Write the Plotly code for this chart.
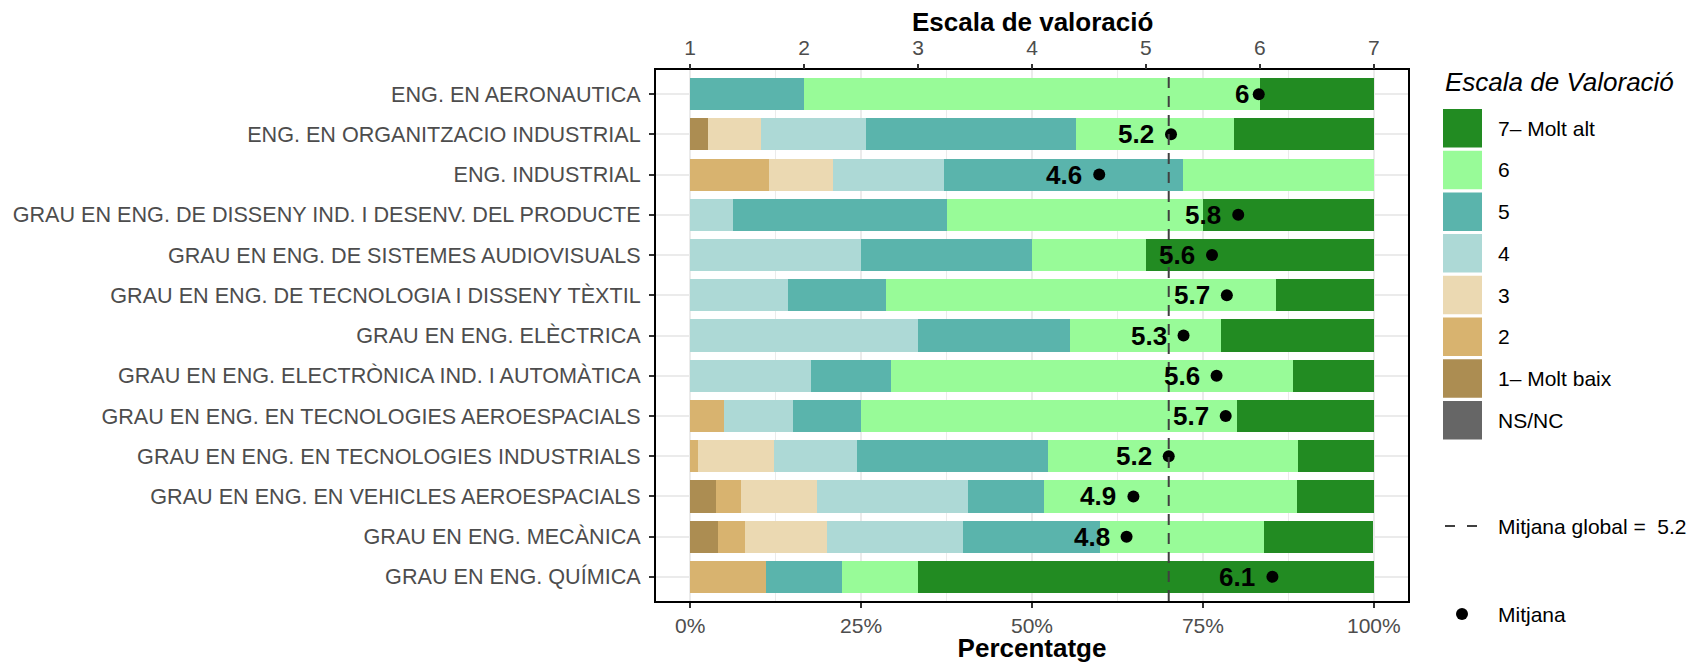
import plotly.graph_objects as go

# ---------------- data ----------------
categories = [
    "ENG. EN AERONAUTICA",
    "ENG. EN ORGANITZACIO INDUSTRIAL",
    "ENG. INDUSTRIAL",
    "GRAU EN ENG. DE DISSENY IND. I DESENV. DEL PRODUCTE",
    "GRAU EN ENG. DE SISTEMES AUDIOVISUALS",
    "GRAU EN ENG. DE TECNOLOGIA I DISSENY TÈXTIL",
    "GRAU EN ENG. ELÈCTRICA",
    "GRAU EN ENG. ELECTRÒNICA IND. I AUTOMÀTICA",
    "GRAU EN ENG. EN TECNOLOGIES AEROESPACIALS",
    "GRAU EN ENG. EN TECNOLOGIES INDUSTRIALS",
    "GRAU EN ENG. EN VEHICLES AEROESPACIALS",
    "GRAU EN ENG. MECÀNICA",
    "GRAU EN ENG. QUÍMICA",
]

level_names = ["1\u2013 Molt baix", "2", "3", "4", "5", "6", "7\u2013 Molt alt"]

pct_1 = [0, 2.6, 0, 0, 0, 0, 0, 0, 0, 0, 3.8, 4.1, 0]
pct_2 = [0, 0, 11.6, 0, 0, 0, 0, 0, 5.0, 1.2, 3.6, 3.9, 11.1]
pct_3 = [0, 7.7, 9.3, 0, 0, 0, 0, 0, 0, 11.0, 11.1, 12.0, 0]
pct_4 = [0, 15.4, 16.3, 6.25, 25.0, 14.3, 33.3, 17.6, 10.0, 12.2, 22.1, 19.9, 0]
pct_5 = [16.7, 30.8, 34.9, 31.25, 25.0, 14.3, 22.2, 11.8, 10.0, 28.0, 11.2, 20.1, 11.1]
pct_6 = [66.6, 23.0, 27.9, 37.5, 16.7, 57.1, 22.2, 58.8, 55.0, 36.5, 37.0, 23.9, 11.1]
pct_7 = [16.7, 20.5, 0, 25.0, 33.3, 14.3, 22.3, 11.8, 20.0, 11.1, 11.2, 16.0, 66.7]

means = [5.99, 5.22, 4.59, 5.81, 5.58, 5.71, 5.33, 5.62, 5.70, 5.20, 4.89, 4.83, 6.11]
global_mean = 5.2

scale_ticks = [1, 2, 3, 4, 5, 6, 7]
pct_ticks = [0, 25, 50, 75, 100]
pct_ticklabels = ["0%", "25%", "50%", "75%", "100%"]

colors = ["#AC8D52", "#D8B36F", "#EBD9B2", "#ADD9D6", "#5AB4AC", "#98FB98", "#228B22"]
ns_color = "#666666"

# ---------------- layout geometry ----------------
W, H = 1692, 663
ML, MR, MT, MB = 656, 284, 70, 62
PW, PH = W - ML - MR, H - MT - MB
FONT = "Liberation Sans, Arial, Helvetica, sans-serif"


def fx(px):
    return (px - ML) / PW


def fy(py):
    return 1 - (py - MT) / PH


fig = go.Figure()

series = [pct_1, pct_2, pct_3, pct_4, pct_5, pct_6, pct_7]
for name, vals, col in zip(level_names, series, colors):
    fig.add_trace(go.Bar(
        y=categories, x=vals, orientation="h", name=name,
        marker=dict(color=col, line=dict(width=0)), width=0.8,
        showlegend=False, xaxis="x", yaxis="y",
    ))

# mean points on the 1-7 scale axis
fig.add_trace(go.Scatter(
    x=means, y=categories, mode="markers", xaxis="x2", yaxis="y",
    marker=dict(color="black", size=12), showlegend=False,
))

# mean labels
LABEL_SIZE = 26
for cat, m in zip(categories, means):
    txt = f"{round(m, 1):g}"
    width = LABEL_SIZE * sum(0.556 if ch.isdigit() else 0.278 for ch in txt)
    fig.add_annotation(
        x=m, y=cat, xref="x2", yref="y", text=f"<b>{txt}</b>", showarrow=False,
        xanchor="right", yanchor="middle", xshift=-(3 + 0.33 * width),
        font=dict(family=FONT, size=LABEL_SIZE, color="black"),
    )

# global mean dashed line
fig.add_shape(
    type="line", xref="x2", yref="y domain", x0=global_mean, x1=global_mean,
    y0=0, y1=1, line=dict(color="#404040", width=2, dash="11px,8px"),
)

grid_col = "#EBEBEB"
fig.update_layout(
    width=W, height=H,
    margin=dict(l=ML, r=MR, t=MT, b=MB, autoexpand=False),
    paper_bgcolor="white", plot_bgcolor="white",
    barmode="stack", showlegend=False,
    font=dict(family=FONT, size=21, color="#4D4D4D"),
    xaxis=dict(
        range=[-5, 105], tickvals=pct_ticks, ticktext=pct_ticklabels,
        showgrid=True, gridcolor=grid_col, gridwidth=1.6,
        minor=dict(dtick=12.5, tick0=0, showgrid=True, gridcolor=grid_col, gridwidth=1.0, ticklen=0),
        ticks="outside", ticklen=5, tickwidth=1.5, tickcolor="#333333",
        tickfont=dict(size=21, color="#4D4D4D"),
        showline=True, mirror=True, linecolor="black", linewidth=2,
        zeroline=False, automargin=False,
        title=dict(text="<b>Percentatge</b>", font=dict(size=26, color="black"), standoff=3),
    ),
    xaxis2=dict(
        range=[0.7, 7.3], overlaying="x", side="top", tickvals=scale_ticks,
        showgrid=False, zeroline=False, showline=False,
        ticks="outside", ticklen=5, tickwidth=1.5, tickcolor="#333333",
        tickfont=dict(size=21, color="#4D4D4D"), automargin=False,
        ticklabelstandoff=1,
    ),
    yaxis=dict(
        categoryorder="array", categoryarray=categories, range=[12.6, -0.6],
        showgrid=True, gridcolor=grid_col, gridwidth=1.6,
        ticks="outside", ticklen=5, tickwidth=1.5, tickcolor="#333333",
        tickfont=dict(size=21.6, color="#4D4D4D"), ticklabelstandoff=4,
        showline=True, mirror=True, linecolor="black", linewidth=2,
        zeroline=False, automargin=False,
    ),
)

# top axis title
fig.add_annotation(
    x=0.5, y=fy(22), xref="paper", yref="paper", text="<b>Escala de valoració</b>",
    showarrow=False, xanchor="center", yanchor="middle",
    font=dict(family=FONT, size=26, color="black"),
)

# ---------------- custom legend ----------------
leg_x0, leg_x1 = 1443, 1482
leg_top0, pitch, key_h = 109, 41.7, 38.5
leg_items = list(zip(level_names[::-1], colors[::-1])) + [("NS/NC", ns_color)]
fig.add_annotation(
    x=fx(1443), y=fy(82), xref="paper", yref="paper", text="<i>Escala de Valoració</i>",
    showarrow=False, xanchor="left", yanchor="middle",
    font=dict(family=FONT, size=26, color="black"),
)
for i, (lab, col) in enumerate(leg_items):
    top = leg_top0 + i * pitch
    fig.add_shape(type="rect", xref="paper", yref="paper",
                  x0=fx(leg_x0), x1=fx(leg_x1), y0=fy(top + key_h), y1=fy(top),
                  fillcolor=col, line=dict(width=0))
    fig.add_annotation(
        x=fx(1496), y=fy(top + key_h / 2), xref="paper", yref="paper", text=lab,
        showarrow=False, xanchor="left", yanchor="middle",
        font=dict(family=FONT, size=21, color="black"),
    )

fig.add_shape(type="line", xref="paper", yref="paper",
              x0=fx(1445), x1=fx(1477), y0=fy(526), y1=fy(526),
              line=dict(color="#404040", width=2, dash="10px,12px"))
fig.add_annotation(
    x=fx(1496), y=fy(526), xref="paper", yref="paper",
    text=f"Mitjana global =\u00a0 {global_mean}",
    showarrow=False, xanchor="left", yanchor="middle",
    font=dict(family=FONT, size=21, color="black"),
)
fig.add_shape(type="circle", xref="paper", yref="paper",
              x0=fx(1456), x1=fx(1468), y0=fy(620), y1=fy(608),
              fillcolor="black", line=dict(width=0))
fig.add_annotation(
    x=fx(1496), y=fy(614), xref="paper", yref="paper", text="Mitjana",
    showarrow=False, xanchor="left", yanchor="middle",
    font=dict(family=FONT, size=21, color="black"),
)

fig.write_html("out.html", config={"displayModeBar": False},
               post_script="document.body.style.margin='0';")
